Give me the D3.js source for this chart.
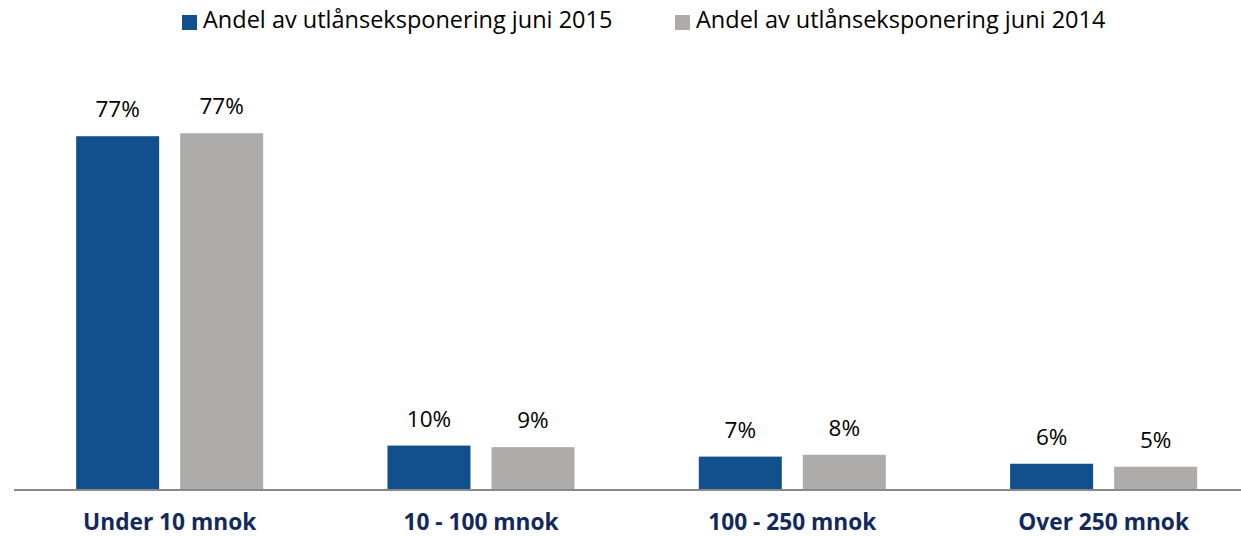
<!DOCTYPE html>
<html>
<head>
<meta charset="utf-8">
<script src="https://cdn.jsdelivr.net/npm/d3@7"></script>
<style>
  html, body { margin: 0; padding: 0; background: #ffffff; }
  svg { display: block; font-family: "Open Sans", sans-serif; }
</style>
</head>
<body>
<svg id="chart" width="1241" height="536"></svg>
<script>
// Loan exposure share by size band, June 2015 vs June 2014 (percent)
const categories = ["Under 10 mnok", "10 - 100 mnok", "100 - 250 mnok", "Over 250 mnok"];
const seriesNames = ["Andel av utlånseksponering juni 2015", "Andel av utlånseksponering juni 2014"];
const share2015 = [76.8, 9.55, 7.15, 5.6];
const share2014 = [77.45, 9.2, 7.55, 4.95];
const seriesColors = ["#11508c", "#aeabab"];

const seriesValues = [share2015, share2014];
const rows = categories.map((c, i) => ({
  category: c,
  values: seriesNames.map((s, j) => ({ series: s, value: seriesValues[j][i], color: seriesColors[j] }))
}));

const svg = d3.select("#chart");

const x0 = d3.scaleBand()
  .domain(categories)
  .range([14, 1259.3])
  .paddingInner(0.3993)
  .paddingOuter(0.3993 / 2);

const x1 = d3.scaleBand()
  .domain(seriesNames)
  .range([0, x0.bandwidth()])
  .paddingInner(0.202);

const y = d3.scaleLinear()
  .domain([0, 100])
  .range([489.5, 29.5]);

const pct = v => Math.round(v) + "%";

// Bars and value labels
const groups = svg.append("g")
  .selectAll("g")
  .data(rows)
  .join("g")
  .attr("transform", d => `translate(${x0(d.category)},0)`);

groups.selectAll("rect")
  .data(d => d.values)
  .join("rect")
  .attr("x", d => x1(d.series))
  .attr("y", d => y(d.value))
  .attr("width", x1.bandwidth())
  .attr("height", d => y(0) - y(d.value))
  .attr("fill", d => d.color);

groups.selectAll("text")
  .data(d => d.values)
  .join("text")
  .attr("x", d => x1(d.series) + x1.bandwidth() / 2)
  .attr("y", d => y(d.value) - 19)
  .attr("text-anchor", "middle")
  .attr("font-size", 22.5)
  .attr("fill", "#000000")
  .text(d => pct(d.value));

// Category axis: baseline and bold labels
const xAxis = d3.axisBottom(x0).tickSize(0).tickPadding(0);
const axisG = svg.append("g")
  .attr("transform", `translate(0,${y(0) + 0.5})`)
  .call(xAxis);
axisG.select(".domain").remove();
axisG.append("line")
  .attr("x1", 14).attr("x2", 1241)
  .attr("y1", 0).attr("y2", 0)
  .attr("stroke", "#898989")
  .attr("stroke-width", 2);
axisG.selectAll(".tick text")
  .attr("y", 40)
  .attr("dy", 0)
  .attr("font-family", "'Open Sans', sans-serif")
  .attr("font-size", 22.7)
  .attr("font-weight", "bold")
  .attr("fill", "#13295e");

// Legend
const legendX = [182, 675];
const legend = svg.append("g")
  .selectAll("g")
  .data(seriesNames)
  .join("g")
  .attr("transform", (d, i) => `translate(${legendX[i]},0)`);
legend.append("rect")
  .attr("x", 0).attr("y", 15)
  .attr("width", 15).attr("height", 15)
  .attr("fill", (d, i) => seriesColors[i]);
legend.append("text")
  .attr("x", 21).attr("y", 28)
  .attr("font-size", 23.5)
  .attr("fill", "#000000")
  .text(d => d);
</script>
</body>
</html>
